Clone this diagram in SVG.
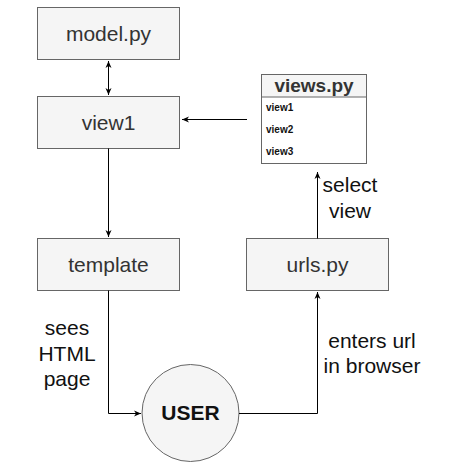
<svg xmlns="http://www.w3.org/2000/svg" width="450" height="469" viewBox="0 0 450 469">
<defs>
<style>
.box{fill:#f5f5f5;stroke:#666;stroke-width:1}
.t{font-family:"Liberation Sans",Arial,sans-serif;fill:#333;text-anchor:middle;font-size:21px}
.lbl{font-family:"Liberation Sans",Arial,sans-serif;fill:#111;text-anchor:middle;font-size:21px}
.item{font-family:"Liberation Sans",Arial,sans-serif;fill:#111;font-size:10px;font-weight:bold}
.c{fill:none;stroke:#000;stroke-width:1}
</style>
<marker id="ah" markerWidth="8" markerHeight="8" refX="7" refY="4" orient="auto-start-reverse" markerUnits="userSpaceOnUse">
<path d="M0,1 L7,4 L0,7 L2,4 Z" fill="#000"/>
</marker>
</defs>
<rect width="450" height="469" fill="#fff"/>
<g id="model">
<rect class="box" x="37.5" y="7.5" width="142" height="52"/>
<text class="t" x="108.5" y="41">model.py</text>
</g>
<g id="view1">
<rect class="box" x="37.5" y="96.5" width="142" height="52"/>
<text class="t" x="108.5" y="130">view1</text>
</g>
<g id="template">
<rect class="box" x="37.5" y="238.5" width="142" height="52"/>
<text class="t" x="108.5" y="272">template</text>
</g>
<g id="urls">
<rect class="box" x="246.5" y="238.5" width="142" height="52"/>
<text class="t" x="317.5" y="272">urls.py</text>
</g>
<g id="views">
<rect x="261.5" y="74.5" width="105" height="89" fill="#fff" stroke="#666"/>
<rect class="box" x="261.5" y="74.5" width="105" height="22.5"/>
<text class="t" x="314" y="92" style="font-size:19px;font-weight:bold">views.py</text>
<text class="item" x="266" y="111">view1</text>
<text class="item" x="266" y="133">view2</text>
<text class="item" x="266" y="155">view3</text>
</g>
<g id="user">
<circle cx="190.5" cy="413" r="48.5" fill="#f5f5f5" stroke="#666"/>
<text class="t" x="190.5" y="420" style="font-weight:bold;fill:#111">USER</text>
</g>
<g id="connectors">
<line class="c" x1="108.5" y1="61" x2="108.5" y2="95" marker-start="url(#ah)" marker-end="url(#ah)"/>
<line class="c" x1="247" y1="119.5" x2="182" y2="119.5" marker-end="url(#ah)"/>
<line class="c" x1="108.5" y1="148.5" x2="108.5" y2="237" marker-end="url(#ah)"/>
<line class="c" x1="317.5" y1="238.5" x2="317.5" y2="172" marker-end="url(#ah)"/>
<polyline class="c" points="108.5,290.5 108.5,413.5 141,413.5" marker-end="url(#ah)"/>
<polyline class="c" points="239,413.5 317.5,413.5 317.5,292" marker-end="url(#ah)"/>
</g>
<g id="labels">
<text class="lbl" x="350" y="192">select</text>
<text class="lbl" x="350" y="218">view</text>
<text class="lbl" x="67" y="335">sees</text>
<text class="lbl" x="67" y="361">HTML</text>
<text class="lbl" x="67" y="386">page</text>
<text class="lbl" x="372" y="348">enters url</text>
<text class="lbl" x="372" y="373">in browser</text>
</g>
</svg>
